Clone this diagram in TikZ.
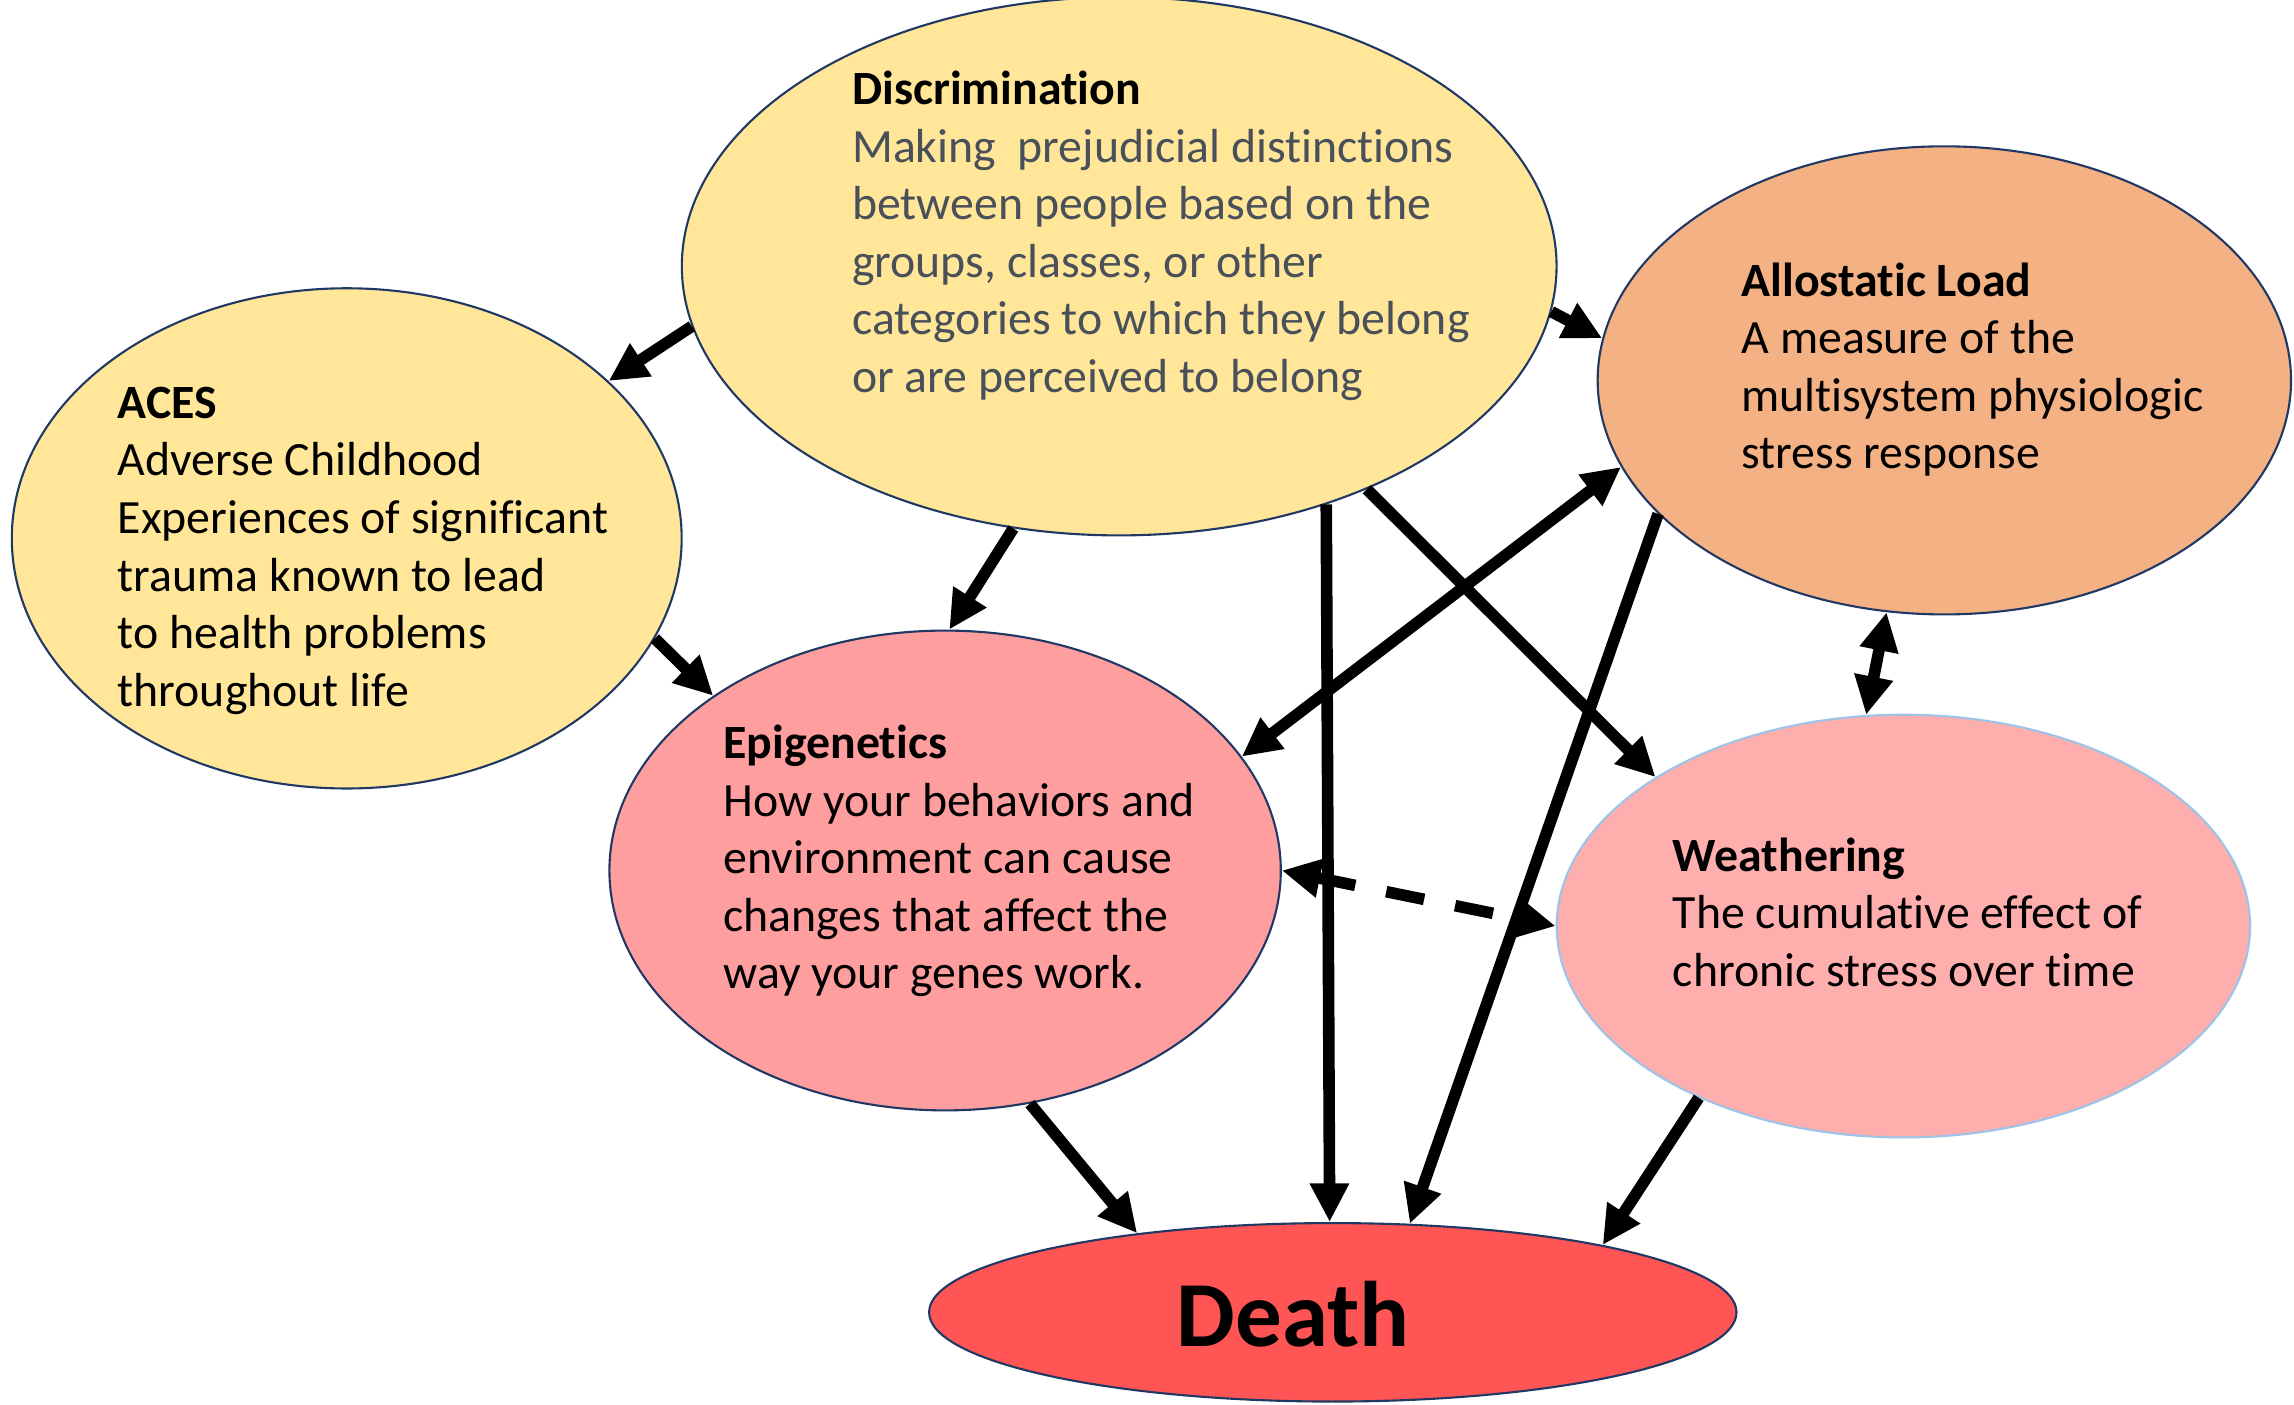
\documentclass[tikz,border=0pt]{standalone}
\usepackage{fontspec}
\setmainfont{Carlito}[Ligatures=NoCommon]
\usetikzlibrary{arrows.meta,shapes.geometric}
\definecolor{DiagJaune}{RGB}{255,230,153}
\definecolor{DiagOrange}{RGB}{244,177,131}
\definecolor{DiagRose}{RGB}{255,158,158}
\definecolor{DiagPale}{RGB}{255,174,174}
\definecolor{DiagRouge}{RGB}{255,85,85}
\definecolor{DiagBord}{RGB}{32,56,100}
\definecolor{DiagCiel}{RGB}{157,195,230}
\definecolor{DiagGris}{RGB}{73,80,90}

\begin{document}
\begin{tikzpicture}[x=0.01463cm, y=-0.01463cm,
		bubble/.style={ellipse, draw=DiagBord, line width=0.6pt, inner sep=0pt},
		blurb/.style={anchor=north west, inner sep=0pt, align=left, font=\fontsize{13.6}{16.4}\selectfont},
		link/.style={line width=3.3pt, -{Triangle[length=11pt,width=10.5pt]}},
		twoway/.style={line width=3.3pt, {Triangle[length=11pt,width=10.5pt]}-{Triangle[length=11pt,width=10.5pt]}}]
			\useasboundingbox (0,0) rectangle (1568,960);
			% the bubbles
			\draw (765,182) node[bubble, fill=DiagJaune, minimum width=8.749cm, minimum height=5.384cm] (disc) {};
			\draw (237,368) node[bubble, fill=DiagJaune, minimum width=6.700cm, minimum height=5.003cm] (aces) {};
			\draw (1329,260) node[bubble, fill=DiagOrange, minimum width=6.935cm, minimum height=4.682cm] (allo) {};
			\draw (646,595) node[bubble, fill=DiagRose, minimum width=6.715cm, minimum height=4.799cm] (epi) {};
			\draw (1301,633) node[bubble, fill=DiagPale, draw=DiagCiel, minimum width=6.935cm, minimum height=4.228cm] (weath) {};
			\draw (911,897) node[bubble, fill=DiagRouge, minimum width=8.076cm, minimum height=1.785cm] (death) {};
			% the texts
			\draw (582,48) node[blurb] (disctext) {\textbf{Discrimination}\\ \color{DiagGris}Making\ \ prejudicial distinctions\\ \color{DiagGris}between people based on the\\ \color{DiagGris}groups, classes, or other\\ \color{DiagGris}categories to which they belong\\ \color{DiagGris}or are perceived to belong};
			\draw (80,264) node[blurb] (acestext) {\textbf{ACES}\\ Adverse Childhood\\ Experiences of significant\\ trauma known to lead\\ to health problems\\ throughout life};
			\draw (1190,179) node[blurb] (allotext) {\textbf{Allostatic Load}\\ A measure of the\\ multisystem physiologic\\ stress response};
			\draw (494,495) node[blurb] (epitext) {\textbf{Epigenetics}\\ How your behaviors and\\ environment can cause\\ changes that affect the\\ way your genes work.};
			\draw (1143,572) node[blurb] (weathtext) {\textbf{Weathering}\\ The cumulative effect of\\ chronic stress over time};
			\draw (884,898) node[inner sep=0pt, font=\fontsize{26.5}{30}\selectfont\bfseries] (deathtext) {Death};
			% the links
			\draw[link] (disc.188) -- (aces.31);
			\draw[link] (disc.248) -- (epi.89);
			\draw[link] (disc.354) -- (allo.173);
			\draw[link] (disc.311) -- (death.92);
			\draw[link] (disc.318) -- (weath.149);
			\draw[twoway] (allo.195) -- (epi.21);
			\draw[link] (allo.205) -- (death.49);
			\draw[twoway] (allo.256) -- (weath.100);
			\draw[link] (aces.-18) -- (epi.143);
			\draw[twoway, dash pattern=on 11pt off 9pt] (epi.0) -- (weath.180);
			\draw[link] (epi.-70) -- (death.158);
			\draw[link] (weath.220) -- (death.14);
		\end{tikzpicture}
\end{document}
